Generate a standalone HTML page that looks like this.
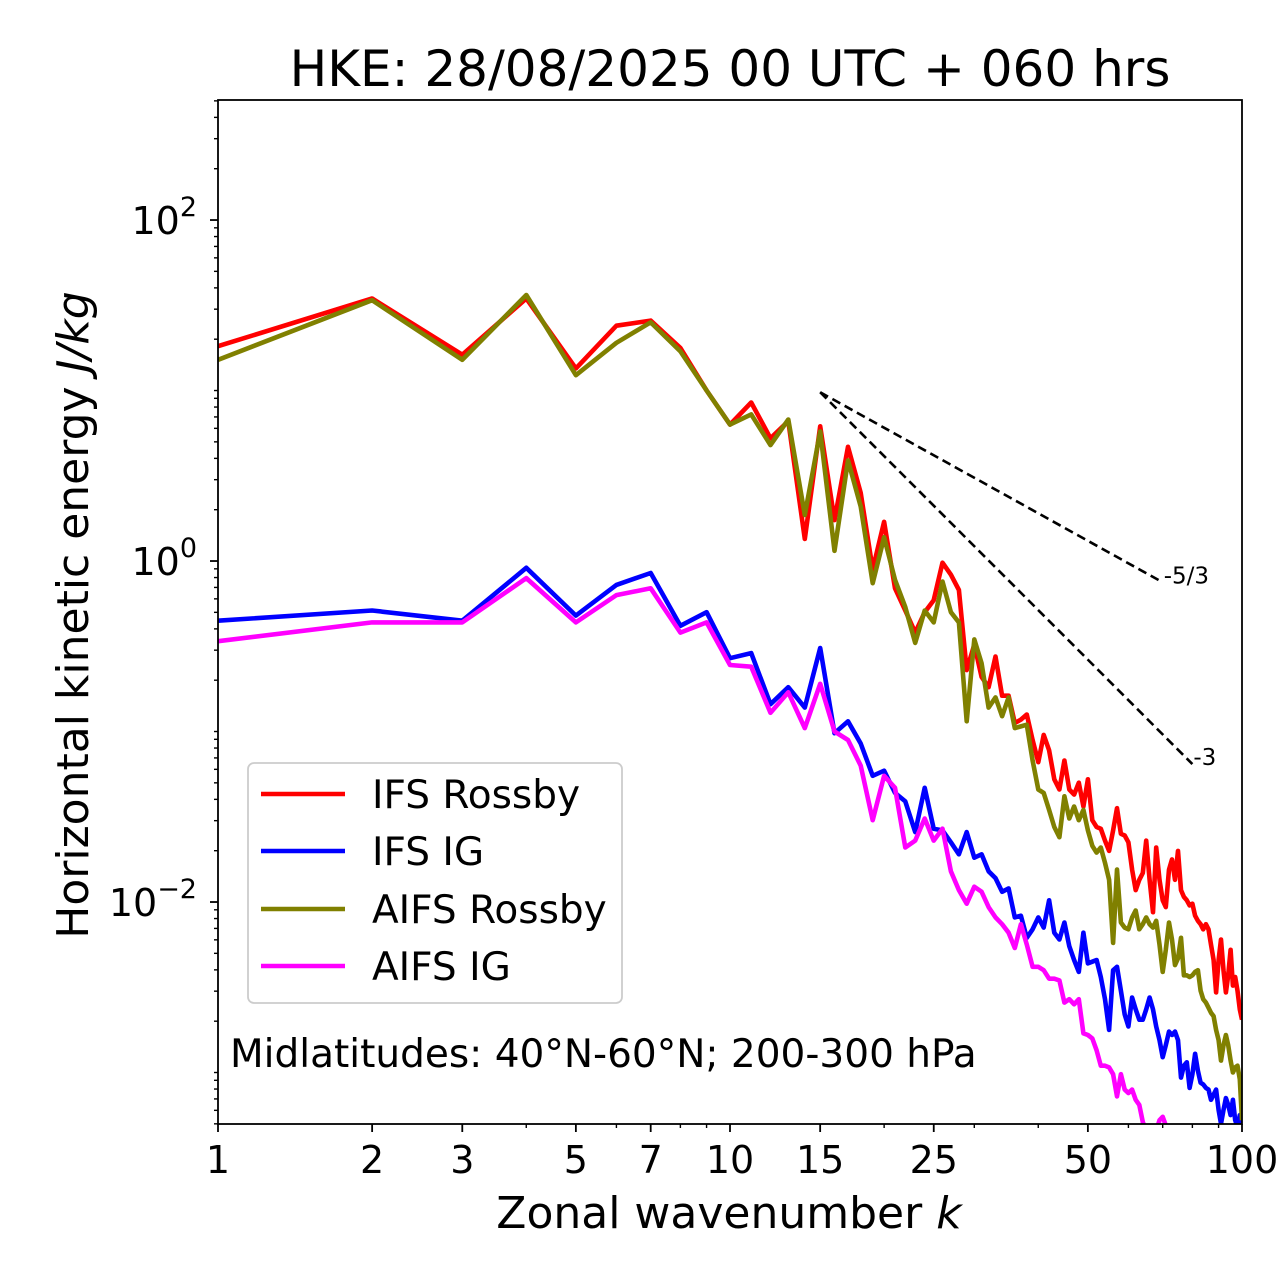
<!DOCTYPE html>
<html><head><meta charset="utf-8"><style>
html,body{margin:0;padding:0;background:#fff;}
svg{display:block;font-family:"DejaVu Sans","Liberation Sans",sans-serif;}
</style></head><body>
<svg id="chart" width="1280" height="1288" viewBox="0 0 1280 1288" xmlns="http://www.w3.org/2000/svg">
<rect width="1280" height="1288" fill="#fff"/>
<text x="730" y="86" font-size="50" text-anchor="middle">HKE: 28/08/2025 00 UTC + 060 hrs</text>
<g id="ticks"></g>
<g id="series" clip-path="url(#plotclip)"></g>
<defs><clipPath id="plotclip"><rect x="218" y="100" width="1024" height="1024"/></clipPath></defs>
<rect x="218" y="100" width="1024" height="1024" fill="none" stroke="#000" stroke-width="1.8"/>
<text x="729" y="1228" font-size="44" text-anchor="middle">Zonal wavenumber <tspan font-style="italic">k</tspan></text>
<text transform="translate(88,615) rotate(-90)" font-size="44" text-anchor="middle">Horizontal kinetic energy <tspan font-style="italic">J/kg</tspan></text>
<g>
<rect x="248" y="763" width="374" height="240" rx="6" fill="#fff" fill-opacity="0.8" stroke="#ccc" stroke-width="1.8"/>
<line x1="261" y1="794" x2="345" y2="794" stroke="#ff0000" stroke-width="4.6"/>
<text x="372" y="808" font-size="39">IFS Rossby</text>
<line x1="261" y1="851" x2="345" y2="851" stroke="#0000ff" stroke-width="4.6"/>
<text x="372" y="865" font-size="39">IFS IG</text>
<line x1="261" y1="909" x2="345" y2="909" stroke="#808000" stroke-width="4.6"/>
<text x="372" y="923" font-size="39">AIFS Rossby</text>
<line x1="261" y1="966" x2="345" y2="966" stroke="#ff00ff" stroke-width="4.6"/>
<text x="372" y="980" font-size="39">AIFS IG</text>
</g>
<text x="230" y="1067" font-size="39">Midlatitudes: 40°N-60°N; 200-300 hPa</text>
</svg>
<script>
// log10 of horizontal kinetic energy (J/kg) for k = 1..100
const ifsRossbyLog10 = [1.26,1.54,1.21,1.54,1.13,1.38,1.41,1.25,1.00,0.80,0.93,0.72,0.82,0.13,0.79,0.24,0.67,0.40,-0.05,0.23,-0.16,-0.29,-0.42,-0.30,-0.23,-0.01,-0.08,-0.17,-0.64,-0.49,-0.68,-0.74,-0.56,-0.79,-0.79,-0.95,-0.93,-0.90,-1.05,-1.18,-1.02,-1.11,-1.28,-1.34,-1.17,-1.34,-1.37,-1.30,-1.44,-1.28,-1.52,-1.56,-1.57,-1.64,-1.70,-1.58,-1.45,-1.60,-1.61,-1.65,-1.81,-1.93,-1.87,-1.83,-1.64,-1.87,-2.06,-1.68,-1.87,-1.99,-2.03,-1.81,-1.75,-1.87,-1.70,-1.93,-1.97,-1.99,-2.02,-2.01,-2.08,-2.11,-2.13,-2.16,-2.13,-2.16,-2.25,-2.34,-2.53,-2.34,-2.22,-2.40,-2.53,-2.43,-2.28,-2.49,-2.44,-2.52,-2.63,-2.69];
const ifsIgLog10 = [-0.35,-0.29,-0.35,-0.04,-0.32,-0.14,-0.07,-0.38,-0.30,-0.57,-0.54,-0.84,-0.74,-0.86,-0.51,-1.01,-0.94,-1.07,-1.26,-1.23,-1.36,-1.41,-1.59,-1.33,-1.57,-1.58,-1.65,-1.72,-1.59,-1.74,-1.72,-1.82,-1.86,-1.94,-1.92,-2.09,-2.08,-2.21,-2.16,-2.09,-2.15,-1.99,-2.18,-2.22,-2.12,-2.26,-2.34,-2.41,-2.18,-2.36,-2.35,-2.34,-2.44,-2.57,-2.75,-2.40,-2.38,-2.52,-2.66,-2.73,-2.56,-2.63,-2.69,-2.69,-2.63,-2.56,-2.63,-2.73,-2.81,-2.91,-2.84,-2.76,-2.78,-2.76,-2.81,-3.03,-2.96,-2.94,-3.09,-3.01,-2.89,-2.99,-3.06,-3.07,-3.09,-3.10,-3.16,-3.13,-3.10,-3.22,-3.30,-3.22,-3.15,-3.19,-3.25,-3.16,-3.28,-3.32,-3.25,-3.40];
const aifsRossbyLog10 = [1.18,1.53,1.18,1.56,1.09,1.28,1.40,1.23,1.00,0.80,0.86,0.68,0.83,0.27,0.76,0.06,0.59,0.32,-0.13,0.14,-0.11,-0.27,-0.48,-0.29,-0.36,-0.12,-0.30,-0.36,-0.94,-0.46,-0.60,-0.86,-0.80,-0.91,-0.80,-0.98,-0.97,-0.96,-1.17,-1.34,-1.36,-1.46,-1.56,-1.62,-1.38,-1.51,-1.44,-1.52,-1.46,-1.58,-1.67,-1.71,-1.68,-1.77,-1.87,-2.24,-1.81,-2.12,-2.15,-2.16,-2.09,-2.05,-2.16,-2.13,-2.09,-2.13,-2.15,-2.11,-2.25,-2.41,-2.28,-2.12,-2.22,-2.37,-2.33,-2.21,-2.43,-2.43,-2.44,-2.43,-2.41,-2.40,-2.52,-2.57,-2.59,-2.62,-2.65,-2.67,-2.75,-2.81,-2.93,-2.84,-2.78,-2.84,-2.93,-3.00,-2.97,-2.96,-3.04,-3.28];
const aifsIgLog10 = [-0.47,-0.36,-0.36,-0.10,-0.36,-0.20,-0.16,-0.42,-0.36,-0.61,-0.62,-0.89,-0.77,-0.98,-0.72,-1.00,-1.05,-1.20,-1.52,-1.26,-1.33,-1.68,-1.64,-1.51,-1.64,-1.57,-1.82,-1.93,-2.01,-1.91,-1.94,-2.03,-2.09,-2.13,-2.18,-2.27,-2.13,-2.25,-2.38,-2.38,-2.40,-2.45,-2.45,-2.46,-2.59,-2.57,-2.60,-2.57,-2.77,-2.78,-2.80,-2.87,-2.96,-2.96,-2.97,-3.01,-3.14,-3.01,-3.10,-3.12,-3.10,-3.16,-3.19,-3.29,-3.34,-3.37,-3.43,-3.34,-3.28,-3.26,-3.31,-3.40,-3.42,-3.45,-3.38,-3.48,-3.50,-3.47,-3.52,-3.55,-3.53,-3.58,-3.56,-3.60,-3.62,-3.59,-3.64,-3.66,-3.63,-3.68,-3.70,-3.67,-3.72,-3.74,-3.71,-3.76,-3.78,-3.75,-3.80,-3.82];
const xTickValues = [1,2,3,5,7,10,15,25,50,100];
const xTickLabels = ["1","2","3","5","7","10","15","25","50","100"];
const yTickExponents = [-2,0,2];
const refStartK = [15];
const refStartLog10 = [0.99];
const refEndK = [70,80];
const refSlopes = [-5/3,-3];
const refLabels = ["-5/3","-3"];

const NS="http://www.w3.org/2000/svg";
const X0=218,X1=1242,Y0=1124,Y1=100;
const xMinL=0,xMaxL=2,yMinL=-3.302,yMaxL=2.704;
function xs(k){return X0+(Math.log10(k)-xMinL)/(xMaxL-xMinL)*(X1-X0);}
function ysL(l){return Y0-(l-yMinL)/(yMaxL-yMinL)*(Y0-Y1);}
function mk(tag,attrs,parent){const e=document.createElementNS(NS,tag);for(const a in attrs)e.setAttribute(a,attrs[a]);parent.appendChild(e);return e;}
const tg=document.getElementById('ticks'), sg=document.getElementById('series');

for(let d=0;d<2;d++){for(let m=1;m<10;m++){const v=m*Math.pow(10,d);if(xTickValues.includes(v))continue;
 const t=mk('line',{x1:xs(v),x2:xs(v),y1:Y0,y2:Y0+4,stroke:'#000','stroke-width':1.4},tg);
 
 }}
xTickValues.forEach((v,i)=>{
 const t=mk('line',{x1:xs(v),x2:xs(v),y1:Y0,y2:Y0+8,stroke:'#000','stroke-width':1.8},tg);
 
 
 const l=mk('text',{x:xs(v),y:Y0+49,'font-size':38,'text-anchor':'middle'},tg);
 l.textContent=xTickLabels[i];
 
 
});
for(let d=-4;d<=2;d++){for(let m=1;m<10;m++){const l=d+Math.log10(m);if(l<yMinL||l>yMaxL)continue;
 if(m===1&&yTickExponents.includes(d))continue;
 const t=mk('line',{x1:X0-4,x2:X0,y1:ysL(l),y2:ysL(l),stroke:'#000','stroke-width':1.4},tg);
 
 }}
yTickExponents.forEach(e=>{
 const y=ysL(e);
 const t=mk('line',{x1:X0-8,x2:X0,y1:y,y2:y,stroke:'#000','stroke-width':1.8},tg);
 
 
 const l=mk('text',{x:X0-21,y:y+14,'font-size':38,'text-anchor':'end'},tg);
 
 
 l.textContent='10';
 const s=mk('tspan',{dy:-18,'font-size':27},l); s.textContent=(e<0?'\u2212':'')+Math.abs(e);
});
function drawSeries(arr,color,name){
 const pts=arr.map((l,i)=>xs(i+1).toFixed(1)+','+ysL(l).toFixed(1)).join(' ');
 const p=mk('polyline',{points:pts,fill:'none',stroke:color,'stroke-width':4.6,'stroke-linejoin':'round'},sg);
 
 
}
drawSeries(ifsRossbyLog10,'#ff0000','ifs-rossby-line');
drawSeries(ifsIgLog10,'#0000ff','ifs-ig-line');
drawSeries(aifsRossbyLog10,'#808000','aifs-rossby-line');
drawSeries(aifsIgLog10,'#ff00ff','aifs-ig-line');
refSlopes.forEach((s,i)=>{
 const k0=refStartK[0],l0=refStartLog10[0],k1=refEndK[i];
 const l1=l0+s*(Math.log10(k1)-Math.log10(k0));
 const ln=mk('line',{x1:xs(k0),y1:ysL(l0),x2:xs(k1),y2:ysL(l1),stroke:'#000','stroke-width':2.6,'stroke-dasharray':'9,5'},sg);
 
 
 const t=mk('text',{x:xs(k1)+1,y:ysL(l1)+1,'font-size':23},document.getElementById('chart'));
 t.textContent=refLabels[i];
 
 
});
</script>
</body></html>
